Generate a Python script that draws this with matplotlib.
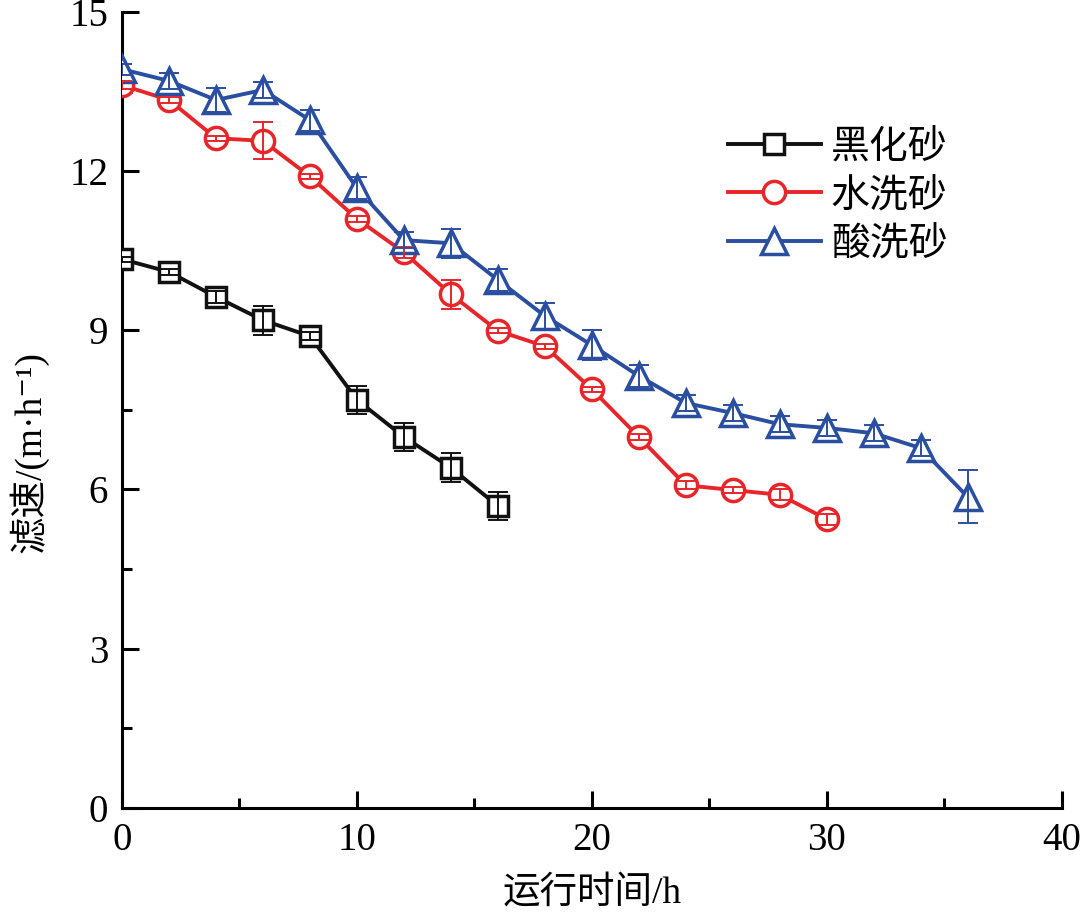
import matplotlib
matplotlib.use("Agg")
import matplotlib.pyplot as plt
from matplotlib.ticker import MultipleLocator

plt.rcParams.update({
    "font.family": ["Liberation Serif", "Noto Sans CJK SC", "DejaVu Serif"],
    "axes.linewidth": 2.2,
})

# data
t_black = [0, 2, 4, 6, 8, 10, 12, 14, 16]
v_black = [10.34, 10.1, 9.63, 9.19, 8.89, 7.69, 6.99, 6.41, 5.69]
e_black = [0.05, 0.05, 0.12, 0.27, 0.08, 0.26, 0.27, 0.27, 0.27]

t_red = [0, 2, 4, 6, 8, 10, 12, 14, 16, 18, 20, 22, 24, 26, 28, 30]
v_red = [13.62, 13.34, 12.62, 12.57, 11.9, 11.1, 10.47, 9.68, 8.99, 8.7,
         7.89, 6.99, 6.08, 5.99, 5.9, 5.44]
e_red = [0.08, 0.05, 0.05, 0.35, 0.05, 0.05, 0.1, 0.27, 0.05, 0.05,
         0.05, 0.05, 0.08, 0.05, 0.1, 0.1]

t_blue = [0, 2, 4, 6, 8, 10, 12, 14, 16, 18, 20, 22, 24, 26, 28, 30, 32, 34, 36]
v_blue = [13.92, 13.7, 13.34, 13.53, 12.96, 11.68, 10.7, 10.64, 9.95, 9.27,
          8.72, 8.14, 7.63, 7.44, 7.23, 7.16, 7.06, 6.78, 5.86]
e_blue = [0.1, 0.15, 0.22, 0.15, 0.2, 0.2, 0.15, 0.27, 0.2, 0.24,
          0.28, 0.2, 0.15, 0.15, 0.15, 0.15, 0.15, 0.15, 0.5]

labels = ["黑化砂", "水洗砂", "酸洗砂"]

fig = plt.figure(figsize=(10.8, 9.17), dpi=100)
ax = fig.add_axes([0.113, 0.119, 0.870, 0.868])

series = [
    (t_black, v_black, e_black, "#111111", "s", 14),
    (t_red, v_red, e_red, "#e8262a", "o", 16),
    (t_blue, v_blue, e_blue, "#2a4ea0", "^", 19),
]
for (t, v, e, c, m, ms), lab in zip(series, labels):
    ax.plot(t, v, color=c, lw=2.8, marker=m, ms=ms, mfc="white",
            mec=c, mew=2.5, label=lab, zorder=3)
    ax.errorbar(t, v, yerr=e, fmt="none", ecolor=c, elinewidth=1.4,
                capsize=7, capthick=1.4, zorder=4)

ax.set_xlim(0, 40)
ax.set_ylim(0, 15)
ax.xaxis.set_major_locator(MultipleLocator(10))
ax.xaxis.set_minor_locator(MultipleLocator(5))
ax.yaxis.set_major_locator(MultipleLocator(3))
ax.yaxis.set_minor_locator(MultipleLocator(1.5))
ax.tick_params(which="both", direction="in", width=2.2, labelsize=28)
ax.tick_params(which="major", length=12, pad=10)
ax.tick_params(which="minor", length=7)
for s in ("top", "right"):
    ax.spines[s].set_visible(False)

ax.set_xlabel("运行时间/h", fontsize=27, labelpad=13)
ax.set_ylabel("滤速/(m·h⁻¹)", fontsize=27)
ax.yaxis.set_label_coords(-0.078, 0.447)

ax.legend(loc="upper left", bbox_to_anchor=(0.628, 0.872), frameon=False,
          fontsize=28, numpoints=1, handlelength=2.4, handletextpad=0.25,
          labelspacing=0.3, borderaxespad=0)

fig.savefig("out.png", dpi=100)
